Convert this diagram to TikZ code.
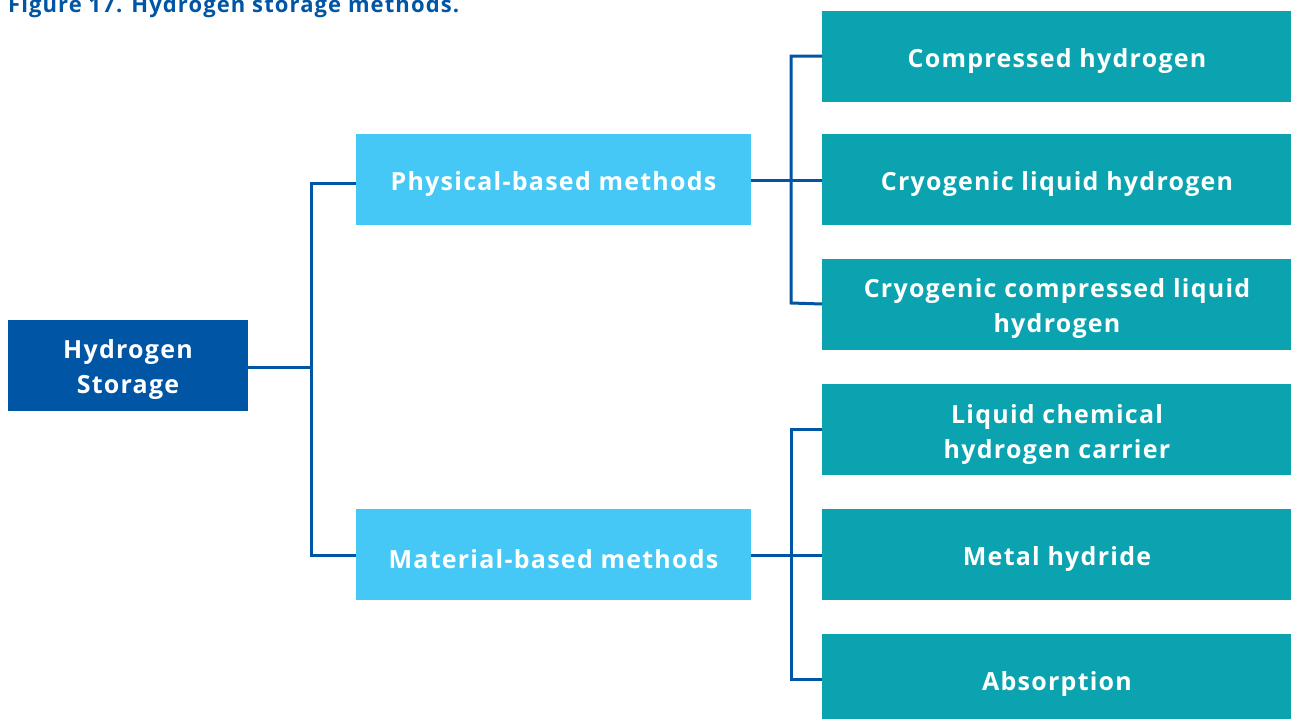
\documentclass[tikz,border=0pt]{standalone}
\usepackage{fontspec}
\setmainfont{Open Sans}[LetterSpace=5]
\definecolor{dblue}{HTML}{0055A5}
\definecolor{lblue}{HTML}{45C8F5}
\definecolor{teal}{HTML}{0AA3AF}
\begin{document}
\begin{tikzpicture}[x=1pt,y=-1pt,
  box/.style={inner sep=0pt,outer sep=0pt,font=\fontsize{25}{35}\selectfont\bfseries,text=white,align=center},
  conn/.style={draw=dblue,line width=3pt}]
\useasboundingbox (0,0) rectangle (1291,718);
\node[anchor=base west,text=dblue,font=\fontsize{22}{24}\selectfont\bfseries,inner sep=0pt] (title) at (8,12) {Figure 17. Hydrogen storage methods.};
\fill[dblue] (8,320) rectangle (248,411);
\node[box] (hs) at (128,369) {Hydrogen\\Storage};
\coordinate (hsR) at (248,367);
\fill[lblue] (356,134) rectangle (751,225);
\node[box] (phys) at (553.5,184) {Physical-based methods};
\fill[lblue] (356,509) rectangle (751,600);
\node[box] (mat) at (553.5,559) {Material-based methods};
\coordinate (physL) at (356,183);
\coordinate (physR) at (751,180);
\coordinate (matL) at (356,555);
\coordinate (matR) at (751,555);
\foreach \y/\t/\n in {11/{Compressed hydrogen}/r1,134/{Cryogenic liquid hydrogen}/r2,259/{Cryogenic compressed liquid\\hydrogen}/r3,384/{Liquid chemical\\hydrogen carrier}/r4,509/{Metal hydride}/r5,634/{Absorption}/r6}{
  \fill[teal] (822,\y) rectangle (1291,\y+91);
  \node[box] (\n) at (1057,\y+50) {\t};
  \coordinate (\n L) at (822,\y+45);
}
\draw[conn] (hsR) -- (311,367);
\draw[conn] (physL) -| (311,555) -- (matL);
\draw[conn] (physR) -- (822,180);
\draw[conn] (r1L) -| (791,303) -- (r3L);
\draw[conn] (matR) -- (822,555);
\draw[conn] (r4L) -| (791,679) -- (r6L);
\end{tikzpicture}
\end{document}
